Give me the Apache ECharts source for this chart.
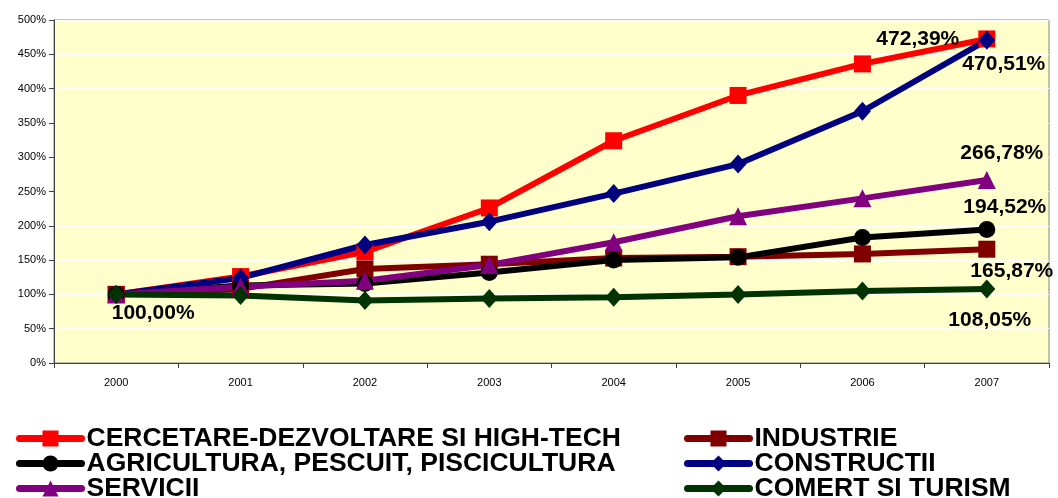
<!DOCTYPE html>
<html>
<head>
<meta charset="utf-8">
<script src="https://cdn.jsdelivr.net/npm/echarts@6/dist/echarts.min.js"></script>
<style>
html, body { margin: 0; padding: 0; background: #fff; }
#chart { width: 1058px; height: 498px; }
</style>
</head>
<body>
<div id="chart"></div>
<script>
var years = ['2000', '2001', '2002', '2003', '2004', '2005', '2006', '2007'];

var cercetare = [100, 126, 162, 226, 324, 390, 436, 472.39];
var industrie = [100, 108, 137, 144, 153, 155, 159, 165.87];
var agricultura = [100, 113, 116, 132, 150, 154, 183, 194.52];
var constructii = [100, 124, 172, 206, 247, 290, 367, 470.51];
var servicii = [100, 111, 120, 143, 176, 214, 240, 266.78];
var comert = [100, 98.5, 91, 94, 96, 100, 105, 108.05];

var myChart = echarts.init(document.getElementById('chart'));

var font = 'Arial, "Liberation Sans", Helvetica, sans-serif';

function fmt(v) {
    return v.toFixed(2).replace('.', ',') + '%';
}

// builds the data list, with a label on the chosen points
function withLabels(values, labels) {
    return values.map(function (v, i) {
        if (!labels[i]) return v;
        return {
            value: v,
            label: {
                show: true,
                position: 'inside',
                offset: labels[i],
                formatter: function (p) { return fmt(p.value); },
                fontFamily: font,
                fontSize: 21,
                fontWeight: 'bold',
                color: '#000'
            }
        };
    });
}

function serie(name, color, symbol, size, data) {
    return {
        name: name,
        type: 'line',
        data: data,
        symbol: symbol,
        symbolSize: size,
        color: color,
        lineStyle: { width: 6, color: color },
        itemStyle: { color: color },
        label: { show: false },
        animation: false
    };
}

var legendText = {
    fontFamily: font,
    fontSize: 26.5,
    fontWeight: 'bold',
    color: '#000'
};

var legendBase = {
    orient: 'vertical', top: 425, height: 120, padding: 0,
    itemWidth: 62, itemHeight: 20, itemGap: -2,
    lineStyle: { width: 7, cap: 'round' },
    textStyle: legendText
};

myChart.setOption({
    backgroundColor: '#fff',
    grid: {
        left: 54, right: 9, top: 20, height: 343,
        show: true, backgroundColor: '#FFFFCC', borderColor: '#808080', borderWidth: 1
    },
    legend: [
        Object.assign({}, legendBase, {
            left: 16,
            data: ['CERCETARE-DEZVOLTARE SI HIGH-TECH', 'AGRICULTURA, PESCUIT, PISCICULTURA', 'SERVICII']
        }),
        Object.assign({}, legendBase, {
            left: 684,
            data: ['INDUSTRIE', 'CONSTRUCTII', 'COMERT SI TURISM']
        })
    ],
    xAxis: {
        type: 'category',
        data: years,
        boundaryGap: true,
        axisLine: { lineStyle: { color: '#404040', width: 1 } },
        axisTick: { show: true, length: 5, lineStyle: { color: '#404040' } },
        axisLabel: { fontFamily: font, fontSize: 11, color: '#000', margin: 14 },
        splitLine: { show: false }
    },
    yAxis: {
        type: 'value',
        min: 0, max: 500, interval: 50,
        axisLine: { show: true, lineStyle: { color: '#404040', width: 1 } },
        axisTick: { show: true, length: 5, lineStyle: { color: '#404040' } },
        axisLabel: { formatter: '{value}%', fontFamily: font, fontSize: 11, color: '#000', margin: 8 },
        splitLine: { show: true, lineStyle: { color: '#FFFFFF', width: 1 } }
    },
    series: [
        serie('CERCETARE-DEZVOLTARE SI HIGH-TECH', '#FF0000', 'rect', 17,
            withLabels(cercetare, { 7: [-69, 0] })),
        serie('INDUSTRIE', '#800000', 'rect', 17,
            withLabels(industrie, { 7: [25, 22] })),
        serie('AGRICULTURA, PESCUIT, PISCICULTURA', '#000000', 'circle', 17,
            withLabels(agricultura, { 7: [18, -22] })),
        serie('CONSTRUCTII', '#000080', 'diamond', [17, 19],
            withLabels(constructii, { 7: [17, 24] })),
        serie('SERVICII', '#800080', 'triangle', 18,
            withLabels(servicii, { 7: [15, -27] })),
        serie('COMERT SI TURISM', '#003300', 'diamond', [17, 19],
            withLabels(comert, { 0: [37, 19], 7: [3, 31] }))
    ]
});
</script>
</body>
</html>
